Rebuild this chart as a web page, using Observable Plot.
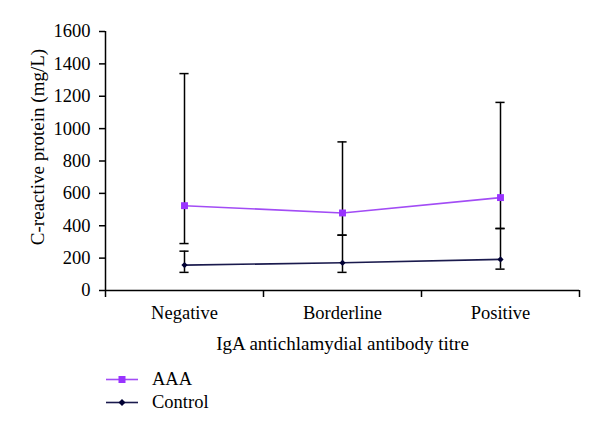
<!DOCTYPE html>
<html>
<head>
<meta charset="utf-8">
<script src="https://cdn.jsdelivr.net/npm/d3@7"></script>
<script src="https://cdn.jsdelivr.net/npm/@observablehq/plot@0.6"></script>
<style>
  html, body { margin: 0; padding: 0; background: #fff; }
  body { width: 600px; height: 434px; overflow: hidden; font-family: "Liberation Serif", "Times New Roman", serif; }
  #chart svg { display: block; }
  #legend { margin-top: 5.5px; font-size: 18.5px; color: #000; }
  .row { height: 23px; display: flex; align-items: center; padding-left: 106px; }
  .row svg { display: block; margin-right: 14px; }
</style>
</head>
<body>
<div id="chart"></div>
<div id="legend"></div>
<script>
const categories = ["Negative", "Borderline", "Positive"];
const seriesNames = ["AAA", "Control"];
const aaaMean = [524, 479, 574];
const aaaLow = [290, 342, 383];
const aaaHigh = [1340, 918, 1162];
const controlMean = [157, 171, 192];
const controlLow = [112, 112, 132];
const controlHigh = [243, 342, 383];
const yTicks = [0, 200, 400, 600, 800, 1000, 1200, 1400, 1600];

const colors = { AAA: "#9933ff", Control: "#000033" };
const lineColors = { AAA: "#a24cf5", Control: "#1a1a4d" };
const FS = 18.5;

const series = [
  { name: seriesNames[0], mean: aaaMean, low: aaaLow, high: aaaHigh, symbol: "square" },
  { name: seriesNames[1], mean: controlMean, low: controlLow, high: controlHigh, symbol: "diamond2" }
];
const rows = series.flatMap(s => categories.map((c, i) => ({
  series: s.name, i, category: c, mean: s.mean[i], low: s.low[i], high: s.high[i]
})));
const caps = rows.flatMap(d => [{ i: d.i, v: d.low }, { i: d.i, v: d.high }]);
const capHalf = 0.029;
const pos = d => d.i + 0.5;

const plot = Plot.plot({
  width: 600,
  height: 362,
  marginLeft: 105,
  marginRight: 21,
  marginTop: 31,
  marginBottom: 72,
  style: { fontFamily: "Liberation Serif, Times New Roman, serif", fontSize: FS + "px", color: "#000", background: "#fff" },
  x: { domain: [0, categories.length] },
  y: { domain: [0, 1600] },
  marks: [
    Plot.axisY({ ticks: yTicks, tickSize: 6, tickPadding: 9, tickFormat: d => String(d), label: null, strokeWidth: 1.5, fontSize: FS }),
    Plot.axisX({ ticks: [0, 1, 2, 3], tickSize: 7, tickFormat: () => "", label: null, strokeWidth: 1.5 }),
    Plot.axisX({ ticks: categories.map((c, i) => i + 0.5), tickSize: 0, tickPadding: 15, tickFormat: v => categories[Math.floor(v)], label: null, fontSize: FS }),
    Plot.ruleX([0], { stroke: "#000", strokeWidth: 1.5 }),
    Plot.ruleY([0], { stroke: "#000", strokeWidth: 1.5 }),
    Plot.ruleX(rows, { x: pos, y1: "low", y2: "high", stroke: "#000", strokeWidth: 1.5 }),
    Plot.ruleY(caps, { y: "v", x1: d => d.i + 0.5 - capHalf, x2: d => d.i + 0.5 + capHalf, stroke: "#000", strokeWidth: 1.5 }),
    Plot.line(rows, { x: pos, y: "mean", z: "series", stroke: d => lineColors[d.series], strokeWidth: 1.6 }),
    Plot.dot(rows.filter(d => d.series === "AAA"), { x: pos, y: "mean", symbol: "square", r: 3.9, fill: colors.AAA, stroke: "none" }),
    Plot.dot(rows.filter(d => d.series === "Control"), { x: pos, y: "mean", symbol: "diamond2", r: 2.8, fill: colors.Control, stroke: "none" }),
    Plot.text(["C-reactive protein (mg/L)"], { frameAnchor: "left", rotate: -90, dx: -68, dy: -14, textAnchor: "middle", lineAnchor: "middle", fontSize: 19 }),
    Plot.text(["IgA antichlamydial antibody titre"], { frameAnchor: "bottom", dy: 53, textAnchor: "middle", lineAnchor: "middle", fontSize: 19 })
  ]
});
document.getElementById("chart").appendChild(plot);

const legend = document.getElementById("legend");
series.forEach(s => {
  const row = document.createElement("div");
  row.className = "row";
  const c = colors[s.name];
  const lc = lineColors[s.name];
  const marker = s.symbol === "square"
    ? `<rect x="12.5" y="8" width="7" height="7" fill="${c}"/>`
    : `<path d="M16,8 L19.5,11.5 L16,15 L12.5,11.5 Z" fill="${c}"/>`;
  row.innerHTML = `<svg width="32" height="23"><line x1="0" x2="32" y1="11.5" y2="11.5" stroke="${lc}" stroke-width="1.6"/>${marker}</svg><span>${s.name}</span>`;
  legend.appendChild(row);
});
</script>
</body>
</html>
